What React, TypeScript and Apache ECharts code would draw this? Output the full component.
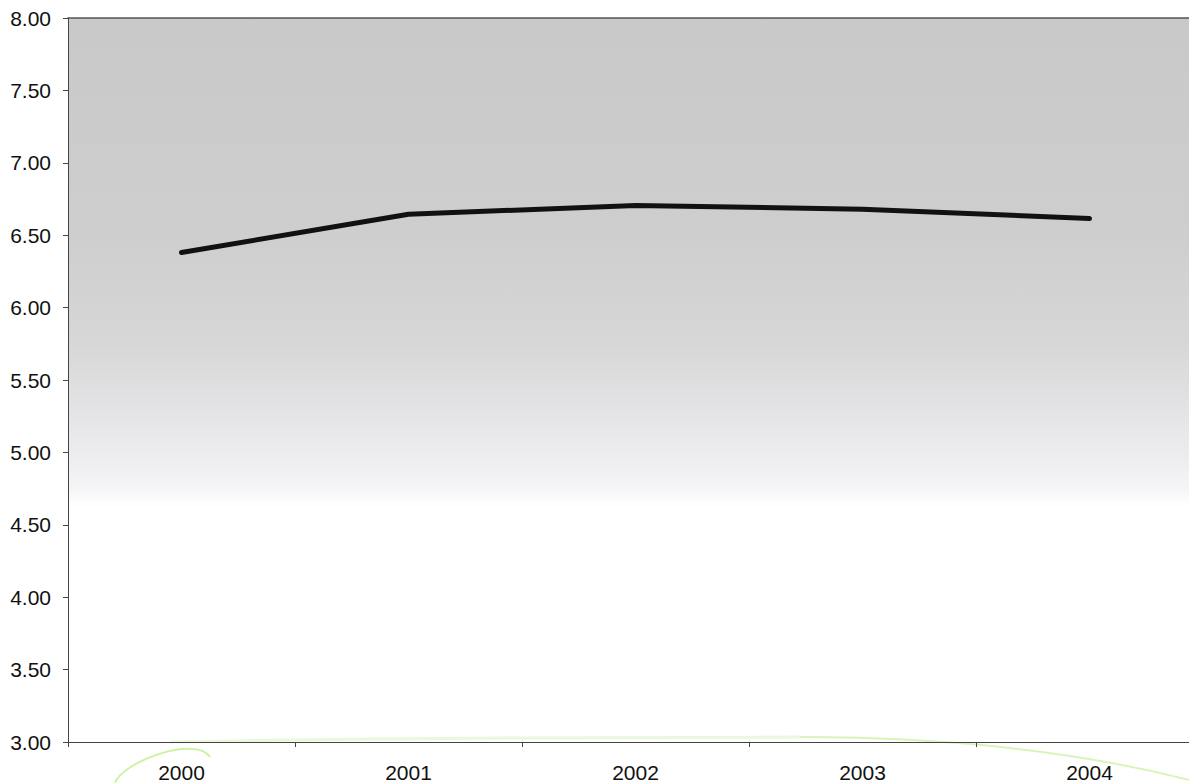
import React, { useEffect, useRef } from "react";
import * as echarts from "echarts";

const years = ["2000", "2001", "2002", "2003", "2004"];
const values = [6.38, 6.645, 6.705, 6.68, 6.615];
const yMin = 3;
const yMax = 8;
const yStep = 0.5;

export default function App() {
  const ref = useRef<HTMLDivElement>(null);
  useEffect(() => {
    if (!ref.current) return;
    const chart = echarts.init(ref.current, null, { renderer: "svg" });
    const bg = new echarts.graphic.LinearGradient(0, 0, 0, 1, [
      { offset: 0, color: "#c9c9c9" },
      { offset: 0.3, color: "#cecece" },
      { offset: 0.45, color: "#d7d7d7" },
      { offset: 0.53, color: "#e2e2e4" },
      { offset: 0.6, color: "#ececef" },
      { offset: 0.65, color: "#f5f5f7" },
      { offset: 0.675, color: "#ffffff" },
      { offset: 1, color: "#ffffff" },
    ]);
    chart.setOption({
      animation: false,
      backgroundColor: "#ffffff",
      grid: {
        left: 68,
        right: 0,
        top: 18,
        bottom: 38,
        show: true,
        backgroundColor: bg,
        borderWidth: 0,
      },
      xAxis: [
        {
          type: "category",
          data: years,
          boundaryGap: true,
          axisLine: { show: true, lineStyle: { color: "#444444", width: 1 } },
          axisTick: { show: true, length: 5, inside: false, lineStyle: { color: "#444444" } },
          axisLabel: {
            color: "#111111",
            fontFamily: "Liberation Sans, Arial, sans-serif",
            fontSize: 21,
            margin: 20,
          },
          splitLine: { show: false },
        },
        {
          type: "category",
          data: years,
          position: "top",
          boundaryGap: true,
          axisLine: { show: true, lineStyle: { color: "#555555", width: 1.5 } },
          axisTick: { show: false },
          axisLabel: { show: false },
          splitLine: { show: false },
        },
      ],
      yAxis: {
        type: "value",
        min: yMin,
        max: yMax,
        interval: yStep,
        axisLine: { show: true, lineStyle: { color: "#444444", width: 1 } },
        axisTick: { show: true, length: 5, lineStyle: { color: "#444444" } },
        axisLabel: {
          color: "#111111",
          fontFamily: "Liberation Sans, Arial, sans-serif",
          fontSize: 21,
          margin: 17,
          formatter: (v: number) => v.toFixed(2),
        },
        splitLine: { show: false },
      },
      series: [
        {
          type: "line",
          xAxisIndex: 0,
          data: values,
          symbol: "none",
          lineStyle: { color: "#111111", width: 5, cap: "round", join: "round" },
        },
      ],
      graphic: [
        {
          type: "bezierCurve",
          silent: true,
          shape: { x1: 115, y1: 783, cpx1: 122, cpy1: 762, cpx2: 195, cpy2: 735, x2: 210, y2: 757 },
          style: { stroke: "#bff08a", lineWidth: 2, fill: null, opacity: 0.8 },
        },
        {
          type: "bezierCurve",
          silent: true,
          shape: { x1: 170, y1: 742, cpx1: 500, cpy1: 736, cpx2: 700, cpy2: 738, x2: 800, y2: 737 },
          style: { stroke: "#e2f5cf", lineWidth: 3, fill: null, opacity: 0.7 },
        },
        {
          type: "bezierCurve",
          silent: true,
          shape: { x1: 800, y1: 737, cpx1: 950, cpy1: 737, cpx2: 1080, cpy2: 752, x2: 1189, y2: 780 },
          style: { stroke: "#cdf3a6", lineWidth: 2, fill: null, opacity: 0.8 },
        },
      ],
    });
    return () => chart.dispose();
  }, []);
  return (
    <div
      style={{
        position: "fixed",
        left: 0,
        top: 0,
        width: 1189,
        height: 783,
        overflow: "hidden",
      }}
    >
      <div ref={ref} style={{ width: 1203, height: 783 }} />
    </div>
  );
}
